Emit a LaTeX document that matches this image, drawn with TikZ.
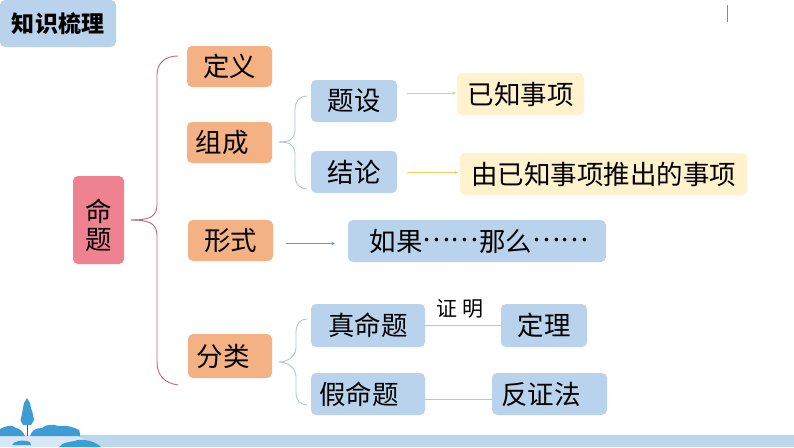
\documentclass[tikz,border=0pt]{standalone}
\usepackage{fontspec}
\setmainfont{Noto Sans CJK SC}
\usetikzlibrary{arrows.meta}
\definecolor{bluebox}{HTML}{B9D3EC}
\definecolor{orangebox}{HTML}{F4B183}
\definecolor{pinkbox}{HTML}{EF8290}
\definecolor{yellowbox}{HTML}{FFF2CC}
\definecolor{bandblue}{HTML}{BDD7EE}
\definecolor{treeblue}{HTML}{3D9BD6}
\definecolor{yellowline}{HTML}{F2CC55}
\definecolor{blueline}{HTML}{5B9BD5}
\tikzset{
  x=1pt,y=-1pt,
  box/.style={rounded corners=5pt,inner sep=0pt,text=black,font=\fontsize{26.5}{30}\selectfont},
  bluenode/.style={box,fill=bluebox},
  orangenode/.style={box,fill=orangebox},
  yellownode/.style={box,fill=yellowbox},
  pinknode/.style={box,fill=pinkbox,align=center,font=\fontsize{26.5}{28}\selectfont},
  bracepink/.style={draw=pinkbox!80!black,line width=0.9pt},
  braceblue/.style={draw=bluebox!85!gray,line width=0.9pt},
  yellowarrow/.style={draw=yellowline,line width=1pt,-{Stealth[length=3.5pt,width=3pt]}},
  bluearrow/.style={draw=blueline,line width=1pt,-{Stealth[length=3.5pt,width=3pt]}},
  plainlink/.style={draw=bluebox!85!gray,line width=0.9pt},
  scenery/.style={fill=treeblue,draw=none}
}
\newcommand{\bx}[6]{\node[#1,minimum width=#4pt,minimum height=#5pt] (#2) at (#3) {\raisebox{-1pt}{#6}};}
\newcommand{\middots}{\raisebox{0.36em}{……}}
\begin{document}
\begin{tikzpicture}
\useasboundingbox (0,0) rectangle (794,447);
\fill[white] (0,0) rectangle (794,447);
% scenery
\fill[bandblue] (0,435) rectangle (794,447);
\fill[bandblue!60!white] (0,435) -- (75,435) -- (100,447) -- (0,447) -- cycle;
\draw[gray!70!black,line width=0.8pt] (27,422) -- (27,436);
\path[scenery] (27,398) -- (30,403) -- (31,408) -- (33,414) -- (34,420) -- (31,425) -- (23,425) -- (20.5,420) -- (22,414) -- (23,408) -- (24,403) -- cycle;
\path[scenery] (0,436) -- (0,429) .. controls (6,426) and (12,424) .. (16,428) .. controls (20,428) and (24,433) .. (25,436) -- cycle;
\path[scenery] (30,436) .. controls (32,430) and (36,428) .. (42,428) .. controls (46,424) and (54,424) .. (58,426) .. controls (66,425) and (74,427) .. (79,430) .. controls (80,432) and (80,434) .. (80,436) -- cycle;
\path[scenery] (12,445) .. controls (14,441) and (22,439) .. (30,442) -- (31,445) -- cycle;
\path[scenery] (59,447) .. controls (62,442) and (72,442) .. (78,440) .. controls (86,439) and (96,442) .. (101,447) -- cycle;
\draw[blueline!70!gray,line width=0.8pt] (727,5) -- (727,22);
% title
\bx{bluenode,font=\fontsize{23}{26}\selectfont\bfseries}{title}{58,23.5}{116}{47}{知识梳理}
% nodes
\node[pinknode,minimum width=51pt,minimum height=88pt] (root) at (98.5,220) {\rule{0pt}{34pt}命\\题};
\bx{orangenode}{def}{229.5,66.5}{85}{41}{定义}
\bx{orangenode}{comp}{229.5,142.5}{85}{41}{组成\hspace*{15pt}}
\bx{orangenode}{form}{230.5,240.5}{85}{41}{形式}
\bx{orangenode}{cls}{230,356}{84}{44}{分类\hspace*{14pt}}
\bx{bluenode}{cond}{354,101}{86}{42}{题设}
\bx{bluenode}{conc}{354,172}{86}{42}{结论}
\bx{yellownode}{known}{520.5,94}{127}{42}{已知事项}
\bx{yellownode}{derived}{603.5,174}{287}{42}{由已知事项推出的事项}
\bx{bluenode}{ifthen}{477,241}{258}{42}{\hspace*{4pt}如果\middots 那么\middots}
\bx{bluenode}{truep}{368,325.5}{114}{43}{真命题}
\bx{bluenode}{falsep}{368,394}{114}{42}{假命题\hspace*{18pt}}
\bx{bluenode}{theorem}{544,325.5}{86}{43}{定理}
\bx{bluenode}{contra}{549.5,394}{115}{42}{反证法\hspace*{17pt}}
\node[inner sep=0pt,font=\fontsize{21}{23}\selectfont] (proof) at (460,308.5) {证\hspace{5pt}明};
% link ends
\coordinate (a1s) at (407,93);
\coordinate (a1e) at (456,93);
\coordinate (a2s) at (407,172.5);
\coordinate (a2e) at (458,172.5);
\coordinate (a3s) at (286,243.5);
\coordinate (a3e) at (335,243.5);
\coordinate (l2s) at (425,399);
\coordinate (l2e) at (492,399);
% links
\draw[plainlink] (truep.east) -- (theorem.west);
\draw[plainlink] (l2s) -- (l2e);
\draw[bluearrow] (a3s) -- (a3e);
\draw[yellowarrow] (a2s) -- (a2e);
\draw[yellowarrow] (a1s) -- (a1e);
% brace anchors
\coordinate (b1t) at (178,56);
\coordinate (b1b) at (178,385);
\coordinate (b2t) at (307,96);
\coordinate (b2b) at (307,189);
\coordinate (b3t) at (307,319);
\coordinate (b3b) at (307,405);
\coordinate (b1m) at (131,220);
\coordinate (b2m) at (279,142);
\coordinate (b3m) at (279,362);
% main brace
\draw[bracepink] (b1m) .. controls (147,220) and (157,218) .. (157,205) -- (157,75) .. controls (157,63) and (165,56) .. (b1t);
\draw[bracepink] (b1m) .. controls (147,220) and (157,222) .. (157,236) -- (157,362) .. controls (157,376) and (165,383) .. (b1b);
% comp brace
\draw[braceblue] (b2m) .. controls (288,142) and (295,140) .. (295,130) -- (295,110) .. controls (295,101) and (300,96) .. (b2t);
\draw[braceblue] (b2m) .. controls (288,142) and (295,144) .. (295,154) -- (295,175) .. controls (295,184) and (300,189) .. (b2b);
% cls brace
\draw[braceblue] (b3m) .. controls (286,362) and (295,358) .. (296,348) -- (296,333) .. controls (296,324) and (300,319) .. (b3t);
\draw[braceblue] (b3m) .. controls (286,362) and (295,366) .. (296,376) -- (296,392) .. controls (296,400) and (300,405) .. (b3b);
\end{tikzpicture}
\end{document}
